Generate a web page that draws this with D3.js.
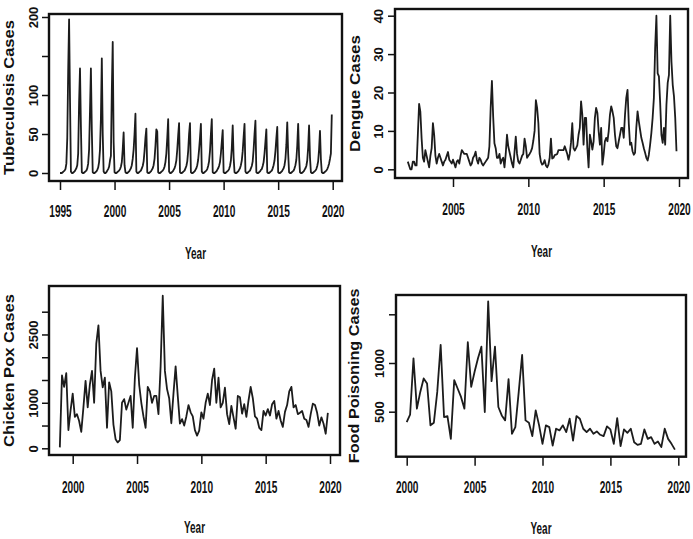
<!DOCTYPE html>
<html>
<head>
<meta charset="utf-8">
<script src="https://cdn.jsdelivr.net/npm/d3@7"></script>
<style>
  body { margin: 0; background: #fff; }
  svg { display: block; }
  text { font-family: "Liberation Sans", Arial, sans-serif; font-weight: bold; fill: #111; }
</style>
</head>
<body>
<svg id="chart"></svg>
<script>
// monthly tuberculosis cases, Jan 1995 - Dec 2019
const tbStart = 1995;
const tbCases = [
  0,0,0,1,2,3,5,12,45,130,197,95,
  2,0,0,1,2,4,6,10,25,90,134,60,
  1,0,0,1,2,3,6,12,30,80,134,55,
  1,0,0,1,2,4,7,14,30,70,147,50,
  2,0,0,1,3,5,8,16,22,105,168,40,
  1,0,0,1,2,3,5,8,14,30,52,10,
  1,0,0,1,2,4,6,10,18,30,50,76,
  2,0,0,1,2,3,6,9,15,28,45,57,
  1,0,0,1,2,4,6,10,18,35,56,53,
  1,0,0,1,2,3,5,8,14,25,45,69,
  2,0,0,1,2,4,6,10,16,30,48,64,
  1,0,0,1,2,3,6,9,15,28,50,64,
  1,0,0,1,2,4,6,10,17,30,45,63,
  2,0,0,1,2,3,5,9,15,28,50,69,
  1,0,0,1,2,4,6,9,14,25,40,55,
  1,0,0,1,2,3,5,9,16,32,61,20,
  1,0,0,1,2,4,6,10,16,28,46,63,
  2,0,0,1,2,3,6,9,15,30,50,67,
  1,0,0,1,2,4,5,9,14,25,40,56,
  1,0,0,1,2,3,6,10,16,28,44,59,
  1,0,0,1,2,4,6,10,18,36,65,25,
  1,0,0,1,2,3,6,10,17,35,63,22,
  1,0,0,1,2,4,6,9,16,33,61,20,
  1,0,0,1,2,3,5,9,15,30,54,18,
  1,0,0,1,2,3,5,8,12,18,25,75
];

// monthly dengue cases, Jan 2002 - Nov 2019
const dengueStart = 2002;
const dengueCases = [
  2,1,0,0,2,2,1,1,9,17,15,8,
  3,2,5,3.5,2,0.5,3.5,5.5,12,9,3.5,1.5,
  3,4,3,2,1,2,2.5,3.5,4.5,2.5,2,1.5,
  2.5,1.5,0.5,2,2.4,1.5,3.5,5,4.5,4,4,4,
  3,2,1,1.5,3,3.5,4.6,2.5,1.5,3,2.5,1.5,
  1,1.5,2,2.5,3,6,16,23,13.7,6.8,5.5,3,
  3,4,1.5,2.5,3,0.5,4,9,6,4.5,3,1.5,
  0.5,4.5,8.5,4,2,1.5,2.5,3.5,4,8,6,3,
  3.5,4,4.6,5.5,7.5,10,18,16,12,4,2,1.2,
  1.5,2.4,1,0.5,1.2,3,8,2.8,3,3.7,3.8,4,
  5,5,5,5,5,6,5,4,2.5,4,7,12,
  5.5,4.9,5.5,6.2,9,10.8,17.7,14.2,6.4,13.4,13.4,5.5,
  0.5,9,7.3,5.1,7.3,13.4,16,14.7,9.9,6.4,10.8,1.2,
  3.8,7.3,8.2,7.3,9.9,14.2,16.4,15.1,13.4,9,6,5.5,
  7.3,9,10.8,10.8,8.2,14.2,18.6,20.7,12,6.4,6.9,4.7,
  3.8,4.3,10.8,15.1,12.5,10.3,8.2,6.9,5.5,4.3,3,2.3,
  3.8,6.4,9.5,13.4,18.6,31.6,40,25,24.2,17.3,9,6.9,
  10.8,6.4,16.8,22.5,24.6,40,28,22,19,13.4,4.7
];

// bi-monthly chicken pox cases, 1999 - 2019
const chickenPoxStart = 1999;
const chickenPoxCases = [
  20,1600,1350,1650,400,830,
  1200,690,750,600,360,900,
  1480,900,1400,1700,1000,2300,
  2700,1700,1340,1550,450,1450,
  1250,520,200,130,180,1000,
  1080,850,1000,1150,450,1550,
  2200,1400,1000,700,450,1350,
  1250,1000,1150,1150,750,1800,
  3350,1700,1300,1100,550,1200,
  1800,1150,540,640,500,700,
  950,790,700,400,280,390,
  790,650,1000,1200,950,1500,
  1750,1000,1550,900,1000,1330,
  750,530,930,680,430,1150,
  1120,760,970,690,1050,1350,
  1100,700,650,450,400,820,
  720,860,720,970,1040,650,
  820,610,470,800,950,1250,
  1350,900,950,750,780,820,
  650,620,470,750,980,950,
  780,500,680,540,320,780
];

// quarterly food poisoning cases, 2000 - 2019
const foodStart = 2000;
const foodPoisoningCases = [
  393,469,1048,531, 703,841,790,360, 387,703,1186,445, 455,221,824,738,
  652,531,1213,755, 910,1048,1168,497, 1633,814,1168,548, 462,411,834,273,
  342,703,1082,411, 387,249,514,360, 170,360,342,153, 325,308,360,290,
  428,204,455,428, 325,290,325,273, 297,263,249,349, 318,170,435,146,
  318,283,325,187, 159,170,318,221, 239,170,194,136, 325,221,170,111
];

const tbXTicks = [1995, 2000, 2005, 2010, 2015, 2020];
const tbYTicks = [0, 50, 100, 150, 200];
const tbYLabels = ['0', '50', '100', '', '200'];

const dengueXTicks = [2005, 2010, 2015, 2020];
const dengueYTicks = [0, 10, 20, 30, 40];
const dengueYLabels = ['0', '10', '20', '30', '40'];

const chickenXTicks = [2000, 2005, 2010, 2015, 2020];
const chickenYTicks = [0, 500, 1000, 1500, 2000, 2500, 3000];
const chickenYLabels = ['0', '', '1000', '', '', '2500', ''];

const foodXTicks = [2000, 2005, 2010, 2015, 2020];
const foodYTicks = [500, 1000, 1500];
const foodYLabels = ['500', '1000', ''];

let width = 693;
let height = 539;

let svg = d3.select('#chart')
            .attr('width', width)
            .attr('height', height);

let toSeries = (values, start, perYear) => {
    return values.map((v, i) => [start + i / perYear, v]);
}

// squeeze or stretch a text so that it is `len` px long on screen
let fitWidth = (sel, x, y, len) => {
    sel.each(function() {
        let natural = this.getComputedTextLength();
        d3.select(this)
          .attr('x', 0).attr('y', 0)
          .attr('transform', 'translate(' + x + ',' + y + ') scale(' + (len / natural) + ',1)');
    });
}
let fitHeight = (sel, x, y, len) => {
    sel.each(function() {
        let natural = this.getComputedTextLength();
        d3.select(this)
          .attr('x', 0).attr('y', 0)
          .attr('transform', 'translate(' + x + ',' + y + ') scale(1,' + (len / natural) + ') rotate(-90)');
    });
}

let drawPanel = (p) => {
    let xScale = d3.scaleLinear().domain(p.xDomain).range(p.xRange);
    let yScale = d3.scaleLinear().domain(p.yDomain).range(p.yRange);
    let g = svg.append('g');

    // x axis, ticks hang off the bottom of the box
    let xAxis = d3.axisBottom(xScale)
                  .tickValues(p.xTicks)
                  .tickFormat(d3.format('d'))
                  .tickSize(9)
                  .tickSizeOuter(0);
    let gx = g.append('g')
              .attr('transform', 'translate(0,' + p.box[3] + ')')
              .call(xAxis);
    gx.select('.domain').remove();
    gx.selectAll('line').attr('stroke', '#111').attr('stroke-width', 1.5);
    gx.selectAll('text')
      .attr('dy', null)
      .attr('font-size', 16)
      .call(fitWidth, 0, p.xLabelY - p.box[3], 22.5);

    // y axis with rotated labels
    let yAxis = d3.axisLeft(yScale)
                  .tickValues(p.yTicks)
                  .tickFormat((d, i) => p.yLabels[i])
                  .tickSize(7)
                  .tickSizeOuter(0);
    let gy = g.append('g')
              .attr('transform', 'translate(' + p.box[0] + ',0)')
              .call(yAxis);
    gy.select('.domain').remove();
    gy.selectAll('line').attr('stroke', '#111').attr('stroke-width', 1.5);
    gy.selectAll('text')
      .attr('x', null).attr('dy', null)
      .attr('text-anchor', 'middle')
      .attr('font-size', 13)
      .attr('transform', 'translate(' + (p.yLabelX - p.box[0]) + ',0) rotate(-90)');

    // line
    let line = d3.line()
                 .x(d => xScale(d[0]))
                 .y(d => yScale(d[1]));
    g.append('path')
     .datum(p.data)
     .attr('d', line)
     .attr('fill', 'none')
     .attr('stroke', '#1c1c1c')
     .attr('stroke-width', 1.8)
     .attr('stroke-linejoin', 'round');

    // box
    g.append('rect')
     .attr('x', p.box[0])
     .attr('y', p.box[1])
     .attr('width', p.box[2] - p.box[0])
     .attr('height', p.box[3] - p.box[1])
     .attr('fill', 'none')
     .attr('stroke', '#111')
     .attr('stroke-width', 2.4);

    // titles
    g.append('text')
     .attr('text-anchor', 'middle')
     .attr('font-size', 17)
     .text('Year')
     .call(fitWidth, (p.box[0] + p.box[2]) / 2, p.xTitleY, 21);

    g.append('text')
     .attr('text-anchor', 'middle')
     .attr('font-size', 14.5)
     .text(p.yTitle)
     .call(fitHeight, p.yTitleX, (p.box[1] + p.box[3]) / 2, p.yTitleLen);
}

drawPanel({
    data: toSeries(tbCases, tbStart, 12),
    box: [49, 14, 342, 181],
    xDomain: [1995, 2020], xRange: [60, 332.7],
    yDomain: [0, 200], yRange: [173, 17],
    xTicks: tbXTicks, yTicks: tbYTicks, yLabels: tbYLabels,
    xLabelY: 216.5, yLabelX: 37.5, xTitleY: 259, yTitleX: 13.5,
    yTitle: 'Tuberculosis Cases', yTitleLen: 155
});

drawPanel({
    data: toSeries(dengueCases, dengueStart, 12),
    box: [395, 9, 688, 178],
    xDomain: [2005, 2020], xRange: [453, 679],
    yDomain: [0, 40], yRange: [169.3, 15.7],
    xTicks: dengueXTicks, yTicks: dengueYTicks, yLabels: dengueYLabels,
    xLabelY: 215, yLabelX: 383, xTitleY: 257, yTitleX: 360,
    yTitle: 'Dengue Cases', yTitleLen: 117
});

drawPanel({
    data: toSeries(chickenPoxCases, chickenPoxStart, 6),
    box: [49, 286, 340, 455],
    xDomain: [2000, 2020], xRange: [72.7, 330],
    yDomain: [0, 3000], yRange: [448.3, 311.7],
    xTicks: chickenXTicks, yTicks: chickenYTicks, yLabels: chickenYLabels,
    xLabelY: 492.5, yLabelX: 37.5, xTitleY: 533, yTitleX: 13.5,
    yTitle: 'Chicken Pox Cases', yTitleLen: 153
});

drawPanel({
    data: toSeries(foodPoisoningCases, foodStart, 4),
    box: [396, 295, 686, 456.7],
    xDomain: [2000, 2020], xRange: [406.7, 678.3],
    yDomain: [500, 1500], yRange: [411.7, 314.3],
    xTicks: foodXTicks, yTicks: foodYTicks, yLabels: foodYLabels,
    xLabelY: 493, yLabelX: 384, xTitleY: 533.5, yTitleX: 359,
    yTitle: 'Food Poisoning Cases', yTitleLen: 175
});
</script>
</body>
</html>
